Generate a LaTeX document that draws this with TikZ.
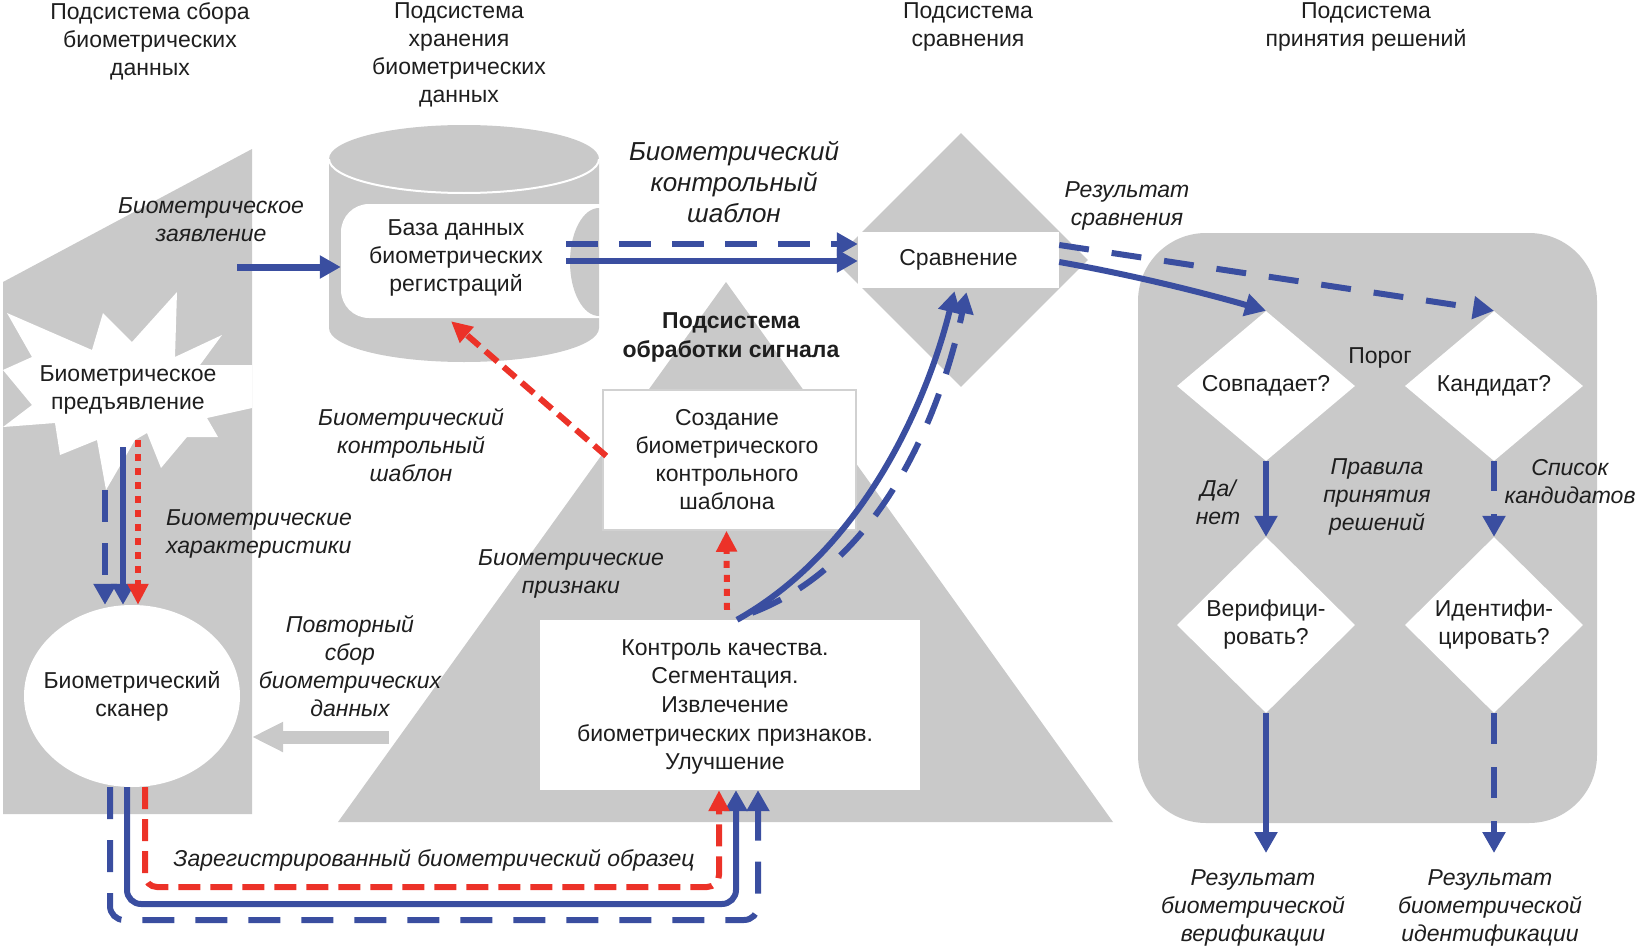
\documentclass[tikz,border=0pt]{standalone}
\usepackage{fontspec}
\setmainfont{Liberation Sans}
\usetikzlibrary{arrows.meta,shapes.geometric,calc}
\definecolor{gr}{RGB}{201,201,201}
\definecolor{bl}{RGB}{58,78,160}
\definecolor{rd}{RGB}{236,50,40}
\definecolor{tk}{RGB}{30,30,30}
\begin{document}
\begin{tikzpicture}[x=1pt,y=-1pt,
  txtreg/.style={font=\fontsize{23}{28}\selectfont, text=tk, align=center, inner sep=0pt},
  txtit/.style={font=\fontsize{23}{28}\selectfont\itshape, text=tk, align=center, inner sep=0pt},
  txtbig/.style={font=\fontsize{26}{31}\selectfont\itshape, text=tk, align=center, inner sep=0pt},
  txtbold/.style={font=\fontsize{23}{29}\selectfont\bfseries, text=tk, align=center, inner sep=0pt},
  blu/.style={draw=bl, line width=6pt, -{Triangle[length=21pt,width=22pt]}},
  bludash/.style={blu, dash pattern=on 32pt off 21pt},
  redarr/.style={draw=rd, line width=6pt, -{Triangle[length=21pt,width=20pt]}},
  reddash/.style={redarr, dash pattern=on 20pt off 10pt},
  reddot/.style={redarr, dash pattern=on 7pt off 7pt},
  wbox/.style={fill=white, draw=none, inner sep=0pt},
  dmd/.style={diamond, fill=white, draw=none, inner sep=0pt, minimum width=178pt}
]
\useasboundingbox (0,0) rectangle (1642,950);

% ---------- gray background shapes ----------
\fill[gr] (3,282) -- (252,149) -- (252,814) -- (3,814) -- cycle;
\fill[gr] (726,282) -- (1113,822) -- (338,822) -- cycle;
% cylinder
\fill[gr] (329,159) -- (329,328) arc[start angle=180, end angle=360, x radius=135pt, y radius=34pt] -- (599,159) -- cycle;
\fill[gr] (464,159) ellipse [x radius=135pt, y radius=34pt];
\draw[white, line width=2pt] (329,159) arc[start angle=180, end angle=360, x radius=135pt, y radius=34pt];
% comparison diamond
\node[diamond, fill=gr, inner sep=0pt, minimum width=254pt, minimum height=254pt] (cmpd) at (961,260) {};
% decision panel
\fill[gr, rounded corners=68pt] (1138,233) rectangle (1597,823);
% gray feedback arrow
\coordinate (rep) at (389,737);
\draw[gr, line width=13pt, -{Triangle[length=31pt,width=28pt]}] (rep) -- (252,737);

% ---------- white shapes ----------
\fill[white] (7,313) -- (92,350) -- (103,313) -- (132,342) -- (177,292) -- (175,357) -- (222,335) -- (200,365) -- (252,365) -- (252,408) -- (207,418) -- (218,437) -- (187,437) -- (161,468) -- (147,433) -- (135,440) -- (106,490) -- (97,440) -- (60,455) -- (55,423) -- (3,427) -- (32,405) -- (3,370) -- (32,357) -- cycle;
\node[ellipse, fill=white, inner sep=0pt, minimum width=216pt, minimum height=182pt] (scan) at (132,696) {};
% database inner shape
\fill[white, rounded corners=28pt] (341,204) rectangle (640,318);
\fill[gr] (599,208) arc[start angle=90, end angle=270, x radius=29pt, y radius=54pt] -- cycle;
\node[inner sep=0pt, minimum width=258pt, minimum height=114pt] (db) at (470,261) {};
\node[wbox, minimum width=201pt, minimum height=56pt] (cmp) at (958.5,260) {};
\node[wbox, draw=gr!85!white, line width=1.5pt, minimum width=253pt, minimum height=140pt] (create) at (729.5,460) {};
\node[wbox, minimum width=380pt, minimum height=170pt] (proc) at (730,705) {};
\node[dmd, minimum height=150pt] (d1) at (1266,386) {};
\node[dmd, minimum height=150pt] (d2) at (1494,386) {};
\node[dmd, minimum height=176pt] (d3) at (1266,625) {};
\node[dmd, minimum height=176pt] (d4) at (1494,625) {};

% ---------- texts ----------
\node[txtreg] (h1) at (150,41) {Подсистема сбора\\биометрических\\данных};
\node[txtreg] (h2) at (459,55) {Подсистема\\хранения\\биометрических\\данных};
\node[txtreg] (h3) at (968,27) {Подсистема\\сравнения};
\node[txtreg] (h4) at (1366,27) {Подсистема\\принятия решений};

\node[txtreg] (startxt) at (128,390) {Биометрическое\\предъявление};
\node[txtreg] at (scan) {Биометрический\\сканер};
\node[txtreg] at (456,258) {База данных\\биометрических\\регистраций};
\node[txtreg] at (cmp) {Сравнение};
\node[txtreg] at (727,460) {Создание\\биометрического\\контрольного\\шаблона};
\node[txtreg, font=\fontsize{23}{28.7}\selectfont] at (725,707) {Контроль качества.\\Сегментация.\\Извлечение\\биометрических признаков.\\Улучшение};
\node[txtbold] (sigt) at (731,337) {Подсистема\\обработки сигнала};
\node[txtreg] at (d1) {Совпадает?};
\node[txtreg] at (d2) {Кандидат?};
\node[txtreg] at (d3) {Верифици-\\ровать?};
\node[txtreg] at (d4) {Идентифи-\\цировать?};
\node[txtreg] (porog) at (1380,358) {Порог};

\node[txtit] (lz) at (211,220) {Биометрическое\\заявление};
\node[txtit, align=left, anchor=west] (lh) at (166,534) {Биометрические\\характеристики};
\node[txtbig] (lt) at (734,182) {Биометрический\\контрольный\\шаблон};
\node[txtit] (lt2) at (411,445) {Биометрический\\контрольный\\шаблон};
\node[txtit] (lp) at (571,574) {Биометрические\\признаки};
\node[txtit] (lr) at (350,666) {Повторный\\сбор\\биометрических\\данных};
\node[txtit] (lo) at (434,860) {Зарегистрированный биометрический образец};
\node[txtit] (lc) at (1127,206) {Результат\\сравнения};
\node[txtit] (ly) at (1218,502) {Да/\\нет};
\node[txtit] (lpr) at (1377,497) {Правила\\принятия\\решений};
\node[txtit] (lk) at (1570,482) {Список\\кандидатов};
\node[txtit] (res1) at (1253,908) {Результат\\биометрической\\верификации};
\node[txtit] (res2) at (1490,908) {Результат\\биометрической\\идентификации};

% ---------- connectors ----------
\coordinate (zs) at (237,267);
\draw[blu, line width=7pt] (zs) -- (db.west |- zs);

% star -> scanner
\coordinate (s1) at (105,490);
\coordinate (s2) at (123,447);
\coordinate (s3) at (138,440);
\draw[bludash] (s1) -- ($(scan.north)+(-27,0)$);
\draw[blu] (s2) -- ($(scan.north)+(-9,0)$);
\draw[reddot] (s3) -- ($(scan.north)+(6,0)$);

% scanner -> processing (bottom loops)
\coordinate (b1) at (430,920);
\coordinate (b2) at (430,904);
\coordinate (b3) at (430,887);
\draw[bludash, rounded corners=14pt] ($(scan.south)+(-22,0)$) |- (b1) -| ($(proc.south)+(28,0)$);
\draw[blu, rounded corners=14pt] ($(scan.south)+(-5,0)$) |- (b2) -| ($(proc.south)+(6,0)$);
\draw[reddash, dash pattern=on 22pt off 10pt, rounded corners=12pt] ($(scan.south)+(13,0)$) |- (b3) -| ($(proc.south)+(-11,0)$);

% database -> comparison
\coordinate (dbd) at (566,244);
\coordinate (dbs) at (566,261);
\draw[bludash] (dbd) -- (dbd -| cmp.west);
\draw[blu] (dbs) -- (dbs -| cmp.west);

% creation -> database
\draw[reddash, dash pattern=on 16pt off 8pt] ($(create.west)+(4,-4)$) -- ($(db.south)+(-19,3)$);
% processing -> creation
\draw[reddot] ($(proc.north)+(-3,-10)$) -- ($(create.south)+(-3,0)$);

% processing -> comparison
\draw[blu] ($(proc.north)+(7,0)$) .. controls (870,545) and (930,390) .. ($(cmp.south)+(-4,3)$);
\draw[bludash] ($(proc.north)+(22,-7)$) .. controls (890,560) and (945,395) .. ($(cmp.south)+(8,4)$);

% comparison -> decisions
\draw[blu] ($(cmp.east)+(0,2)$) .. controls (1139,276) and (1215,296) .. (d1.north);
\draw[bludash, dash pattern=on 30pt off 23pt] ($(cmp.east)+(0,-15)$) -- (d2.north);

% decisions
\draw[blu] (d1.south) -- (d3.north);
\draw[bludash, dash pattern=on 30pt off 23pt] (d2.south) -- (d4.north);
\coordinate (e1) at (1266,853);
\coordinate (e2) at (1494,853);
\draw[blu] (d3.south) -- (e1);
\draw[bludash, dash pattern=on 31pt off 23pt] (d4.south) -- (e2);
\end{tikzpicture}
\end{document}
